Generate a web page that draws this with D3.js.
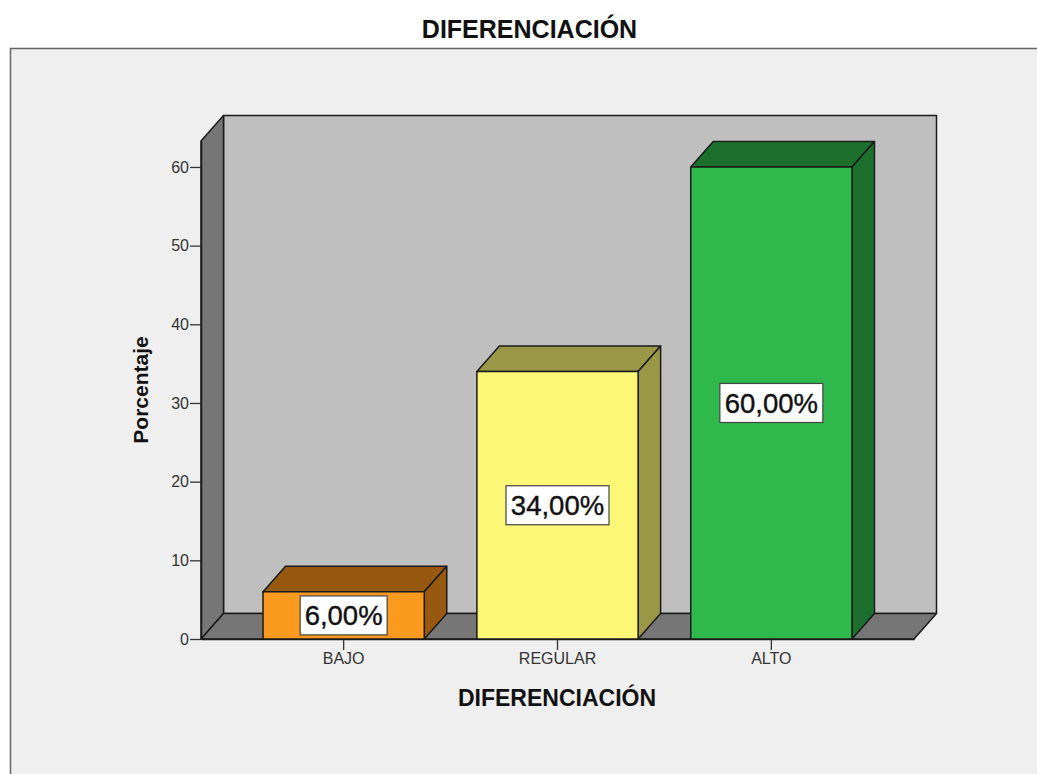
<!DOCTYPE html>
<html>
<head>
<meta charset="utf-8">
<script src="https://cdn.jsdelivr.net/npm/d3@7"></script>
<style>
  html, body { margin: 0; padding: 0; background: #fff; }
  svg { display: block; }
  text { font-family: "Liberation Sans", Arial, sans-serif; }
</style>
</head>
<body>
<script>
// Data
var categories = ["BAJO", "REGULAR", "ALTO"];
var percentages = [6, 34, 60];
var valueLabels = ["6,00%", "34,00%", "60,00%"];
var yTicks = [0, 10, 20, 30, 40, 50, 60];
var frontColors = ["#fb9a1e", "#fcf776", "#2fb84c"];
var sideColors = ["#97590f", "#9a9746", "#1d6f2e"];

var w = 1037;
var h = 774;

// depth of the fake 3D box
var depthX = 22.5;
var depthY = -25.5;

var svg = d3.select("body")
            .append("svg")
            .attr("width", w)
            .attr("height", h);

// Outer frame, runs off the right and bottom of the window
svg.append("rect")
   .attr("x", 10.5)
   .attr("y", 48.5)
   .attr("width", w + 20)
   .attr("height", h)
   .attr("fill", "#efefef")
   .attr("stroke", "#666")
   .attr("stroke-width", 1.5);

// Scales
var xScale = d3.scaleBand()
               .domain(categories)
               .range([201, 914])
               .paddingInner(0.246)
               .paddingOuter(0.29);

var yScale = d3.scaleLinear()
               .domain([0, 63.3])
               .range([639, 141]);

var x0 = xScale.range()[0];
var x1 = xScale.range()[1];
var y0 = yScale(0);
var yTop = yScale(yScale.domain()[1]);

function poly(points, fill) {
  svg.append("polygon")
     .attr("points", points.map(function(p) { return p.join(","); }).join(" "))
     .attr("fill", fill)
     .attr("stroke", "#1a1a1a")
     .attr("stroke-width", 1.5)
     .attr("stroke-linejoin", "round");
}

// Back wall, left wall, floor
poly([[x0 + depthX, yTop + depthY], [x1 + depthX, yTop + depthY], [x1 + depthX, y0 + depthY], [x0 + depthX, y0 + depthY]], "#bfbfbf");
poly([[x0, yTop], [x0 + depthX, yTop + depthY], [x0 + depthX, y0 + depthY], [x0, y0]], "#767676");
poly([[x0, y0], [x0 + depthX, y0 + depthY], [x1 + depthX, y0 + depthY], [x1, y0]], "#767676");

// Axes
var yAxis = svg.append("g")
               .attr("transform", `translate(${x0}, 0)`)
               .call(d3.axisLeft(yScale).tickValues(yTicks).tickSize(11).tickSizeOuter(0).tickPadding(1));

var xAxis = svg.append("g")
               .attr("transform", `translate(0, ${y0})`)
               .call(d3.axisBottom(xScale).tickSize(11).tickSizeOuter(0).tickPadding(3));

yAxis.select(".domain").attr("stroke", "#1a1a1a").attr("stroke-width", 1.5);
xAxis.select(".domain").attr("stroke", "#1a1a1a").attr("stroke-width", 1.5);
svg.selectAll(".tick line").attr("stroke", "#333").attr("stroke-width", 1.3);
yAxis.selectAll("text").attr("font-size", 16).attr("fill", "#333").attr("font-family", "Liberation Sans");
xAxis.selectAll("text").attr("font-size", 16).attr("fill", "#333").attr("font-family", "Liberation Sans");

// Bars
categories.forEach(function(c, i) {
  var left = xScale(c);
  var right = left + xScale.bandwidth();
  var top = yScale(percentages[i]);

  poly([[left, top], [left + depthX, top + depthY], [right + depthX, top + depthY], [right, top]], sideColors[i]);
  poly([[right, top], [right + depthX, top + depthY], [right + depthX, y0 + depthY], [right, y0]], sideColors[i]);
  poly([[left, top], [right, top], [right, y0], [left, y0]], frontColors[i]);

  // Value label in a white box, centred on the bar
  var cx = left + xScale.bandwidth() / 2;
  var cy = (top + y0) / 2;
  var boxW = i == 0 ? 87 : 103;
  svg.append("rect")
     .attr("x", cx - boxW / 2)
     .attr("y", cy - 19.5)
     .attr("width", boxW)
     .attr("height", 39)
     .attr("fill", "#fff")
     .attr("stroke", "#444")
     .attr("stroke-width", 1.2);
  svg.append("text")
     .attr("x", cx)
     .attr("y", cy + 10)
     .attr("text-anchor", "middle")
     .attr("font-size", 27.5)
     .attr("fill", "#111")
     .attr("stroke", "#111")
     .attr("stroke-width", 0.4)
     .text(valueLabels[i]);
});

// Titles
svg.append("text")
   .attr("x", 529.5)
   .attr("y", 38)
   .attr("text-anchor", "middle")
   .attr("font-size", 25)
   .attr("font-weight", "bold")
   .attr("fill", "#111")
   .text("DIFERENCIACIÓN");

svg.append("text")
   .attr("x", 557)
   .attr("y", 706)
   .attr("text-anchor", "middle")
   .attr("font-size", 23)
   .attr("font-weight", "bold")
   .attr("fill", "#111")
   .text("DIFERENCIACIÓN");

svg.append("text")
   .attr("transform", "translate(148, 390) rotate(-90)")
   .attr("text-anchor", "middle")
   .attr("font-size", 21)
   .attr("font-weight", "bold")
   .attr("fill", "#111")
   .text("Porcentaje");
</script>
</body>
</html>
